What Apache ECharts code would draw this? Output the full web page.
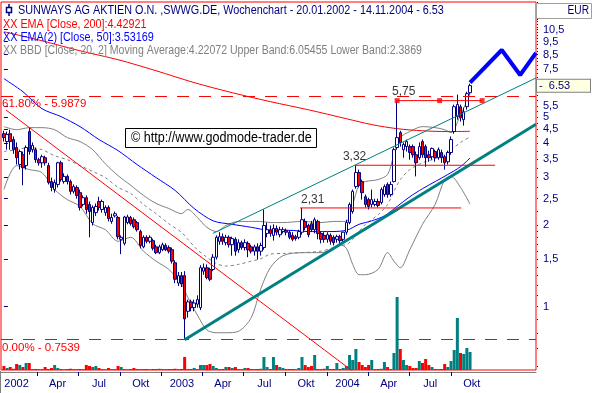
<!DOCTYPE html>
<html>
<head>
<meta charset="utf-8">
<title>SUNWAYS AG Wochenchart</title>
<script src="https://cdn.jsdelivr.net/npm/echarts@6.0.0/dist/echarts.min.js"></script>
<style>
  html, body { margin: 0; padding: 0; background: #ffffff; }
  #chart { width: 594px; height: 393px; }
</style>
</head>
<body>
<div id="chart"></div>
<script>
// ---- weekly bars, one per week, first bar on Friday 18.01.2002 ----
const firstWeekDate = '2002-01-18';

const opens = [
  4.34, 4.06, 4.34, 4.13, 3.86, 3.34, 3.63, 3.31, 4.42, 3.79,
  3.79, 3.48, 3.39, 3.54, 3.31, 2.89, 2.70, 2.82, 3.39, 2.89,
  3.02, 2.89, 2.66, 2.75, 2.63, 2.38, 2.52, 2.38, 2.04, 2.22,
  2.44, 2.28, 2.22, 2.32, 2.06, 2.16, 2.13, 1.77, 1.71, 2.04,
  2.13, 2.09, 2.04, 1.89, 1.66, 1.80, 1.74, 1.75, 1.66, 1.58,
  1.62, 1.68, 1.65, 1.62, 1.45, 1.22, 1.30, 1.30, 0.96, 1.04,
  0.99, 1.02, 0.99, 1.35, 1.39, 1.37, 1.37, 1.52, 1.74, 1.81,
  1.72, 1.80, 1.69, 1.77, 1.62, 1.72, 1.65, 1.71, 1.66, 1.60,
  1.66, 1.60, 1.65, 1.86, 1.92, 1.83, 1.94, 1.84, 1.89, 1.91,
  1.88, 1.83, 1.81, 1.80, 1.88, 2.06, 1.99, 2.02, 1.92, 2.06,
  1.86, 1.83, 1.77, 1.83, 1.80, 1.77, 1.81, 1.77, 1.88, 2.04,
  2.24, 2.77, 3.12, 2.89, 2.54, 2.48, 2.38, 2.38, 2.44, 2.42,
  2.59, 2.82, 2.59, 2.89, 3.86, 4.38, 3.79, 3.89, 3.89, 3.89,
  3.63, 3.54, 4.06, 3.89, 3.63, 3.57, 3.73, 3.54, 3.70, 3.57,
  3.42, 3.70, 4.42, 5.02, 5.46, 4.89, 5.46, 6.15
];
const highs = [
  4.45, 4.42, 4.49, 4.24, 4.03, 3.79, 3.73, 3.93, 4.57, 4.03,
  3.86, 3.54, 3.63, 3.60, 3.39, 2.99, 2.94, 3.42, 3.45, 3.10,
  3.07, 2.94, 2.82, 2.80, 2.70, 2.57, 2.57, 2.44, 2.36, 2.40,
  2.54, 2.48, 2.36, 2.36, 2.20, 2.24, 2.16, 1.83, 2.16, 2.18,
  2.16, 2.13, 2.07, 1.92, 1.83, 1.83, 1.83, 1.78, 1.69, 1.69,
  1.72, 1.71, 1.68, 1.65, 1.48, 1.34, 1.34, 1.35, 1.06, 1.06,
  1.06, 1.10, 1.42, 1.44, 1.43, 1.39, 1.56, 1.83, 1.88, 1.86,
  1.84, 1.83, 1.81, 1.80, 1.77, 1.75, 1.77, 1.74, 1.69, 1.69,
  1.71, 1.72, 2.28, 2.04, 1.99, 2.01, 1.99, 1.97, 1.96, 1.94,
  1.91, 1.88, 1.84, 1.92, 2.31, 2.11, 2.02, 2.07, 2.13, 2.09,
  1.89, 1.88, 1.88, 1.86, 1.83, 1.84, 1.84, 1.89, 2.09, 2.42,
  2.70, 3.32, 3.20, 2.94, 2.59, 2.52, 2.70, 2.50, 2.50, 2.75,
  2.82, 2.87, 2.89, 3.86, 5.75, 4.45, 4.03, 4.13, 3.96, 3.96,
  3.73, 4.03, 4.13, 3.96, 3.76, 3.86, 3.79, 3.86, 3.79, 3.63,
  3.76, 4.24, 5.56, 6.05, 5.56, 5.42, 6.20, 6.64
];
const lows = [
  4.06, 3.79, 3.79, 3.66, 3.34, 3.20, 2.80, 3.20, 3.63, 3.70,
  3.39, 3.31, 3.25, 3.31, 2.82, 2.66, 2.63, 2.75, 2.89, 2.84,
  2.82, 2.59, 2.61, 2.50, 2.26, 2.34, 2.20, 1.80, 1.99, 2.16,
  2.26, 2.22, 2.16, 2.06, 2.02, 2.13, 1.77, 1.56, 1.68, 2.01,
  1.99, 1.94, 1.89, 1.64, 1.64, 1.71, 1.71, 1.61, 1.56, 1.56,
  1.60, 1.60, 1.57, 1.44, 1.22, 1.19, 1.18, 0.7539, 0.91, 0.96,
  0.96, 0.99, 0.97, 1.31, 1.26, 1.24, 1.35, 1.49, 1.69, 1.69,
  1.68, 1.65, 1.54, 1.54, 1.58, 1.62, 1.61, 1.52, 1.57, 1.54,
  1.49, 1.54, 1.62, 1.80, 1.81, 1.75, 1.83, 1.80, 1.86, 1.83,
  1.77, 1.74, 1.75, 1.77, 1.84, 1.91, 1.80, 1.89, 1.86, 1.77,
  1.71, 1.72, 1.72, 1.69, 1.68, 1.72, 1.69, 1.72, 1.84, 2.01,
  2.20, 2.72, 2.75, 2.48, 2.32, 2.28, 2.32, 2.34, 2.32, 2.38,
  2.54, 2.52, 2.54, 2.87, 3.79, 3.89, 3.54, 3.73, 3.48, 3.54,
  3.02, 3.48, 3.54, 3.28, 3.42, 3.48, 3.42, 3.48, 3.39, 3.20,
  3.34, 3.63, 4.34, 4.89, 4.81, 4.65, 5.32, 6.05
];
const closes = [
  4.20, 4.31, 4.06, 3.79, 3.54, 3.73, 3.25, 3.86, 3.73, 3.93,
  3.48, 3.39, 3.57, 3.39, 2.87, 2.75, 2.87, 3.39, 2.94, 3.02,
  2.89, 2.66, 2.77, 2.57, 2.32, 2.52, 2.28, 2.24, 2.32, 2.34,
  2.32, 2.44, 2.32, 2.11, 2.13, 2.20, 1.81, 1.80, 2.14, 2.14,
  2.02, 1.97, 1.92, 1.68, 1.80, 1.74, 1.80, 1.64, 1.58, 1.66,
  1.69, 1.62, 1.60, 1.47, 1.26, 1.30, 1.21, 0.90, 1.04, 0.99,
  1.03, 1.06, 1.39, 1.39, 1.28, 1.26, 1.52, 1.80, 1.81, 1.74,
  1.80, 1.69, 1.78, 1.60, 1.72, 1.65, 1.72, 1.62, 1.60, 1.66,
  1.60, 1.68, 1.99, 1.92, 1.86, 1.94, 1.88, 1.92, 1.92, 1.88,
  1.80, 1.77, 1.78, 1.89, 2.09, 1.96, 1.84, 1.92, 2.09, 1.86,
  1.77, 1.77, 1.84, 1.74, 1.72, 1.81, 1.75, 1.88, 2.04, 2.38,
  2.66, 3.12, 2.80, 2.63, 2.38, 2.34, 2.48, 2.44, 2.36, 2.70,
  2.77, 2.59, 2.82, 3.79, 4.20, 4.03, 3.96, 4.06, 3.70, 3.63,
  3.39, 3.89, 3.63, 3.54, 3.54, 3.83, 3.54, 3.79, 3.54, 3.39,
  3.70, 4.13, 5.46, 5.56, 4.97, 5.23, 6.10, 6.53
];
// weekly turnover (thousand shares)
const volumes = [
  80, 40, 60, 25, 120, 100, 60, 140, 140, 20,
  20, 15, 20, 60, 20, 40, 100, 40, 20, 15,
  20, 25, 20, 15, 20, 20, 100, 80, 60, 80,
  40, 20, 15, 40, 20, 20, 80, 60, 20, 15,
  20, 40, 20, 15, 20, 20, 15, 20, 20, 25,
  20, 15, 20, 20, 25, 20, 20, 260, 20, 20,
  40, 20, 100, 100, 100, 120, 80, 40, 20, 20,
  60, 60, 40, 60, 20, 15, 40, 40, 20, 20,
  20, 25, 260, 60, 20, 260, 100, 60, 40, 20,
  20, 20, 15, 40, 260, 100, 60, 80, 300, 20,
  20, 25, 80, 20, 20, 140, 20, 40, 80, 300,
  200, 420, 160, 100, 60, 100, 200, 20, 20, 25,
  160, 60, 20, 340, 1460, 420, 200, 100, 80, 40,
  40, 180, 140, 220, 100, 60, 20, 20, 20, 120,
  60, 180, 400, 1040, 340, 320, 440, 360
];

// ---- indicators (week index -> value) ----
const ema200Weeks = [0, 12, 24, 36, 48, 60, 72, 84, 96, 108, 116, 124, 132, 140, 147];
const ema200Values = [10.32, 9.56, 8.78, 8.14, 7.41, 6.70, 6.15, 5.70, 5.32, 4.93, 4.69, 4.53, 4.45, 4.42, 4.42921];

const ema50Weeks = [0, 6, 12, 18, 24, 30, 36, 42, 48, 54, 60, 66, 72, 78, 84, 90, 96, 102, 108, 112, 116, 120, 124, 128, 132, 136, 140, 144, 147];
const ema50Values = [6.93, 6.20, 5.37, 5.02, 4.61, 4.13, 3.76, 3.34, 2.99, 2.68, 2.30, 2.07, 2.01, 1.96, 1.91, 1.91, 1.89, 1.89, 1.91, 2.01, 2.07, 2.16, 2.34, 2.54, 2.72, 2.89, 3.07, 3.28, 3.53169];

const bandWeeks = [0, 4, 8, 12, 16, 20, 24, 28, 32, 36, 40, 44, 48, 52, 56, 58, 61, 64, 67, 70, 74, 78, 81, 84, 88, 94, 100, 104, 106, 108, 110, 112, 114, 118, 121, 123, 125, 128, 132, 136, 139, 141, 144, 147];
const upperBand = [4.61, 4.49, 4.57, 4.57, 4.49, 4.20, 4.06, 3.79, 3.36, 3.04, 2.80, 2.57, 2.40, 2.30, 2.20, 2.28, 2.13, 1.96, 1.89, 1.99, 2.06, 2.06, 2.06, 2.04, 2.04, 2.06, 2.04, 2.06, 2.06, 2.06, 2.38, 2.80, 2.89, 2.94, 3.07, 3.63, 4.20, 4.42, 4.61, 4.57, 4.49, 4.38, 5.10, 6.05455];
const middleBand = [3.73, 3.79, 3.86, 3.79, 3.60, 3.48, 3.31, 3.15, 2.99, 2.75, 2.61, 2.38, 2.20, 2.02, 1.88, 1.77, 1.62, 1.52, 1.44, 1.41, 1.43, 1.47, 1.50, 1.56, 1.57, 1.58, 1.60, 1.65, 1.68, 1.69, 1.77, 1.89, 2.01, 2.18, 2.38, 2.66, 2.94, 3.20, 3.39, 3.51, 3.66, 3.79, 4.03, 4.22072];
const lowerBand = [2.70, 3.31, 3.20, 3.12, 2.70, 2.48, 2.34, 2.02, 1.92, 1.74, 1.80, 1.60, 1.47, 1.37, 1.21, 1.08, 0.93, 0.82, 0.80, 0.80, 0.81, 0.91, 1.16, 1.39, 1.54, 1.58, 1.58, 1.64, 1.69, 1.64, 1.43, 1.31, 1.31, 1.37, 1.58, 1.47, 1.39, 1.62, 2.01, 2.38, 2.94, 3.02, 2.75, 2.3869];

// ---- drawn analysis ----
const downTrendWeeks = [0.66, 112];
const downTrendPrices = [5.31, 0.554];
const supportWeeks = [57, 167.8];
const supportPrices = [0.7539, 4.70];
const channelWeeks = [65.9, 167.8];
const channelPrices = [1.86, 6.97];
const projectionWeeks = [147, 157, 162.8, 167.8];
const projectionPrices = [6.70, 8.84, 7.15, 8.62];

const levelPrices = [2.31, 3.32, 5.75];
const levelStartWeeks = [93.4, 111, 124];
const levelEndWeeks = [144.2, 154.9, 150.8];

const fibPercents = ['61.80%', '0.00%'];
const fibPrices = [5.9879, 0.7539];

// ---- axes ----
const quarterStarts = ['2002-01-01', '2002-04-01', '2002-07-01', '2002-10-01', '2003-01-01', '2003-04-01',
                       '2003-07-01', '2003-10-01', '2004-01-01', '2004-04-01', '2004-07-01', '2004-10-01'];
const quarterLabels = ['2002', 'Apr', 'Jul', 'Okt', '2003', 'Apr', 'Jul', 'Okt', '2004', 'Apr', 'Jul', 'Okt'];
const priceTicks = [10.5, 9.5, 8.5, 7.5, 5.5, 5, 4.5, 4, 3.5, 3, 2.5, 2, 1.5, 1];

const xAxisMin = -0.914, xAxisMax = 167.8;     // weeks from first bar
const yAxisMinPrice = 0.583, yAxisMaxPrice = 13.29;
const volumeAxisMax = 7360;

// ---------------------------------------------------------------
const NAVY = '#000080', TEAL = '#008080', RED = '#ff0000', BLUE = '#0000ff', GREY = '#808080';
const FONT = '"Liberation Sans", Arial, Helvetica, sans-serif';
const ln = Math.log;
const WEEK_MS = 7 * 86400000;
const t0 = Date.parse(firstWeekDate);
const weekOf = ms => (ms - t0) / WEEK_MS;
const last = a => a[a.length - 1];
const pts = (weeks, prices) => weeks.map((w, i) => [w, ln(prices[i])]);
const comma = v => String(v).replace('.', ',');

const quarterStartWeeks = quarterStarts.map(s => weekOf(Date.parse(s)));
const quarterMidWeeks = quarterStarts.map(s => {
  const d = new Date(Date.parse(s));
  const next = Date.UTC(d.getUTCFullYear(), d.getUTCMonth() + 3, 1);
  return weekOf((d.getTime() + next) / 2);
});

const minorTicks = [];
for (let k = 6; k < 20; k++) minorTicks.push(ln(k / 10));
for (let k = 8; k <= 53; k++) minorTicks.push(ln(k / 4));

const isUp = i => closes[i] >= opens[i];
const candleData = closes.map((c, i) => [i, ln(opens[i]), ln(c), ln(lows[i]), ln(highs[i])]);
const volumeData = volumes.map((v, i) => [i, v]);

const lineSeries = (name, data, color, width, extra) => Object.assign({
  name, type: 'line', data, symbol: 'none', showSymbol: false, silent: true,
  lineStyle: { color, width }, z: 5
}, extra || {});

const lastClose = last(closes);
const titleText = 'SUNWAYS AG AKTIEN O.N. ,SWWG.DE, Wochenchart - 20.01.2002 - 14.11.2004 - ' + lastClose.toFixed(2);
const ema200Text = 'XX EMA [Close, 200]:' + last(ema200Values);
const ema50Text = 'XX EMA(2) [Close, 50]:' + last(ema50Values);
const bandText = 'XX BBD [Close, 20, 2] Moving Average:' + last(middleBand) +
                 ' Upper Band:' + last(upperBand) + ' Lower Band:' + last(lowerBand);

const gText = (x, y, text, color, size, sx, extra) => Object.assign({
  type: 'text', x, y, scaleX: sx, z: 60, silent: true,
  style: { text, fill: color, font: size + 'px ' + FONT, textAlign: 'left', textVerticalAlign: 'middle', align: 'left', verticalAlign: 'middle' }
}, extra || {});

const level575 = 2;
const levelLabelShift = [1, -13, -5];

const option = {
  animation: false,
  backgroundColor: '#ffffff',
  textStyle: { fontFamily: FONT },
  grid: { left: 1, right: 58, top: 2, bottom: 23, show: true, borderColor: RED, borderWidth: 1, backgroundColor: 'transparent' },
  xAxis: {
    type: 'value', min: xAxisMin, max: xAxisMax, offset: 2,
    axisLine: { show: true, onZero: false, lineStyle: { color: GREY, width: 1 } },
    axisTick: { show: true, length: 4, customValues: quarterStartWeeks.filter(w => w >= xAxisMin), lineStyle: { color: NAVY } },
    axisLabel: {
      customValues: quarterMidWeeks, color: NAVY, fontSize: 11, margin: 6, fontFamily: FONT,
      formatter: v => {
        const i = quarterMidWeeks.findIndex(m => Math.abs(m - v) < 1e-6);
        return i >= 0 ? quarterLabels[i] : '';
      }
    },
    splitLine: { show: false }
  },
  yAxis: [
    {
      type: 'value', position: 'right', min: ln(yAxisMinPrice), max: ln(yAxisMaxPrice), offset: 2,
      axisLine: { show: false },
      axisTick: { show: true, length: 4, customValues: priceTicks.map(ln), lineStyle: { color: NAVY } },
      axisLabel: { customValues: priceTicks.map(ln), color: NAVY, fontSize: 11, margin: 5, fontFamily: FONT,
                   formatter: v => comma(Math.round(Math.exp(v) * 10) / 10) },
      splitLine: { show: false }
    },
    {
      type: 'value', position: 'right', min: ln(yAxisMinPrice), max: ln(yAxisMaxPrice), offset: 1,
      axisLine: { show: false },
      axisTick: { show: true, length: 1, customValues: minorTicks, lineStyle: { color: NAVY } },
      axisLabel: { show: false }, splitLine: { show: false }
    },
    {
      type: 'value', position: 'right', min: ln(yAxisMinPrice), max: ln(yAxisMaxPrice), offset: 1,
      axisLine: { show: false }, axisTick: { show: false },
      axisLabel: {
        customValues: [ln(lastClose)], margin: 0, color: NAVY, fontSize: 11, fontFamily: FONT,
        formatter: () => '-  ' + lastClose.toFixed(2),
        backgroundColor: '#ffffe1', borderColor: GREY, borderWidth: 1,
        width: 51, height: 11, lineHeight: 11, padding: [1, 0, 0, 2], align: 'left'
      },
      splitLine: { show: false }
    },
    { type: 'value', min: 0, max: volumeAxisMax, show: false }
  ],
  series: [
    {
      name: 'Volumen', type: 'bar', yAxisIndex: 3, data: volumeData, barWidth: 3, silent: true, z: 1,
      itemStyle: { color: p => (isUp(p.dataIndex) ? TEAL : RED) }
    },
    lineSeries('Upper Band', pts(bandWeeks, upperBand), GREY, 1, { smooth: 0.3, z: 2 }),
    lineSeries('Lower Band', pts(bandWeeks, lowerBand), GREY, 1, { smooth: 0.3, z: 2 }),
    lineSeries('Moving Average', pts(bandWeeks, middleBand), GREY, 1, { smooth: 0.3, z: 2, lineStyle: { color: GREY, width: 1, type: [3, 3] } }),
    lineSeries('EMA 200', pts(ema200Weeks, ema200Values), RED, 1, { smooth: 0.3, z: 3 }),
    lineSeries('EMA 50', pts(ema50Weeks, ema50Values), BLUE, 1, { smooth: 0.3, z: 3 }),
    {
      name: 'SWWG', type: 'candlestick', data: candleData, silent: true, z: 4,
      dimensions: ['week', 'open', 'close', 'lowest', 'highest'],
      encode: { x: 0, y: [1, 2, 3, 4] },
      barWidth: 3,
      itemStyle: { color: '#ffffff', color0: RED, borderColor: NAVY, borderColor0: NAVY, borderWidth: 1 }
    },
    lineSeries('Abwärtstrend', pts(downTrendWeeks, downTrendPrices), RED, 1, {
      markLine: {
        silent: true, symbol: ['none', 'none'], animation: false,
        lineStyle: { color: RED, width: 1, type: [12, 10] },
        label: { show: true, position: 'insideStartBottom', formatter: '{b}', color: RED, fontSize: 11.5, fontFamily: FONT, distance: [1, 2] },
        data: fibPrices.map((p, i) => ({ yAxis: ln(p), name: fibPercents[i] + ' - ' + p }))
      }
    }),
    lineSeries('Unterstützung', pts(supportWeeks, supportPrices), TEAL, 3),
    lineSeries('Trendkanal', pts(channelWeeks, channelPrices), TEAL, 1),
    ...levelPrices.map((p, i) => lineSeries('Marke ' + comma(p), [[levelStartWeeks[i], ln(p)], [levelEndWeeks[i], ln(p)]], RED, 1)),
    {
      name: 'Marken', type: 'scatter', symbolSize: 1, silent: true, z: 6,
      itemStyle: { color: 'rgba(0,0,0,0)' },
      data: levelPrices.map((p, i) => [levelStartWeeks[i], ln(p)]),
      label: {
        show: true, position: 'top', align: 'left', distance: 2, color: '#000000', fontSize: 12, fontFamily: FONT,
        formatter: q => comma(levelPrices[q.dataIndex])
      },
      labelLayout: q => ({ dx: levelLabelShift[q.dataIndex] })
    },
    {
      name: 'Marke 5,75 Punkte', type: 'scatter', symbol: 'rect', symbolSize: 5, silent: true, z: 6,
      itemStyle: { color: RED },
      data: [levelStartWeeks[level575], (levelStartWeeks[level575] + levelEndWeeks[level575]) / 2, levelEndWeeks[level575]]
              .map(w => [w, ln(levelPrices[level575])])
    },
    lineSeries('Projektion', pts(projectionWeeks, projectionPrices), BLUE, 4, { z: 6 })
  ],
  graphic: [
    // candle icon in front of the title
    { type: 'rect', z: 60, silent: true, shape: { x: 6.5, y: 7.5, width: 5, height: 5 }, style: { fill: '#ffffff', stroke: NAVY, lineWidth: 1.5 } },
    { type: 'line', z: 60, silent: true, shape: { x1: 9, y1: 4, x2: 9, y2: 7.5 }, style: { stroke: NAVY, lineWidth: 1.5 } },
    { type: 'line', z: 60, silent: true, shape: { x1: 9, y1: 12.5, x2: 9, y2: 16 }, style: { stroke: NAVY, lineWidth: 1.5 } },
    gText(18, 10.5, titleText, NAVY, 12, 0.9),
    gText(3, 24.5, ema200Text, RED, 12, 0.9),
    gText(3, 38, ema50Text, BLUE, 12, 0.9),
    gText(3, 51, bandText, GREY, 12, 0.88),
    // copyright box
    { type: 'rect', z: 60, silent: true, shape: { x: 125.5, y: 128.5, width: 191, height: 19 }, style: { fill: '#ffffff', stroke: '#000000', lineWidth: 1 } },
    gText(131, 138.5, '\u00a9 http://www.godmode-trader.de', '#000000', 14, 0.9),
    // currency header of the price scale
    { type: 'rect', z: 60, silent: true, shape: { x: 536.5, y: 3.5, width: 55, height: 15 }, style: { fill: '#ffffff', stroke: '#a0a0a0', lineWidth: 1 } },
    gText(589, 11, 'EUR', NAVY, 12, 0.85, { style: { text: 'EUR', fill: NAVY, font: '12px ' + FONT, textAlign: 'right', align: 'right', textVerticalAlign: 'middle', verticalAlign: 'middle' } }),
    { type: 'line', z: 60, silent: true, shape: { x1: 0.5, y1: 371, x2: 0.5, y2: 393 }, style: { stroke: GREY, lineWidth: 1 } }
  ]
};

const chart = echarts.init(document.getElementById('chart'), null, { renderer: 'canvas' });
chart.setOption(option);
</script>
</body>
</html>
